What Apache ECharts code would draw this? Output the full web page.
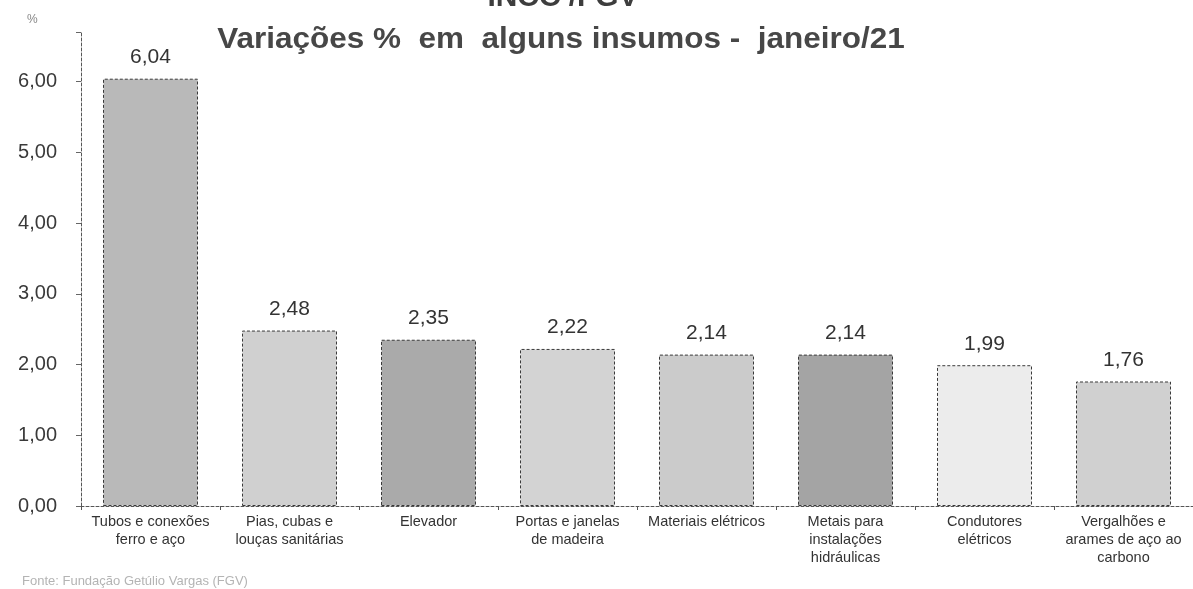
<!DOCTYPE html>
<html>
<head>
<meta charset="utf-8">
<script src="https://cdn.jsdelivr.net/npm/echarts@6/dist/echarts.min.js"></script>
<style>
  html, body { margin: 0; padding: 0; background: #fff; }
  #chart { width: 1193px; height: 589px; }
</style>
</head>
<body>
<div id="chart"></div>
<script>
// Insumos do INCC com as maiores variações em janeiro/21
const categories = [
  'Tubos e conexões\nferro e aço',
  'Pias, cubas e\nlouças sanitárias',
  'Elevador',
  'Portas e janelas\nde madeira',
  'Materiais elétricos',
  'Metais para\ninstalações\nhidráulicas',
  'Condutores\nelétricos',
  'Vergalhões e\narames de aço ao\ncarbono'
];
const values = [6.04, 2.48, 2.35, 2.22, 2.14, 2.14, 1.99, 1.76];
const barColors = ['#b9b9b9', '#d0d0d0', '#aaaaaa', '#d3d3d3', '#cbcbcb', '#a4a4a4', '#ececec', '#d0d0d0'];

const fmt = v => v.toFixed(2).replace('.', ',');
const FONT = '"Liberation Sans", Arial, sans-serif';

const chart = echarts.init(document.getElementById('chart'));
chart.setOption({
  backgroundColor: '#ffffff',
  animation: false,
  graphic: [
    {
      type: 'text', x: 563, y: -17, scaleX: 1.03,
      style: {
        text: 'INCC /FGV', align: 'center', verticalAlign: 'top',
        font: 'bold 29px ' + FONT, fill: '#3d3d3d'
      }
    },
    {
      type: 'text', x: 561, y: 25, scaleX: 1.085,
      style: {
        text: 'Variações %  em  alguns insumos -  janeiro/21',
        align: 'center', verticalAlign: 'top',
        font: 'bold 29px ' + FONT, fill: '#474747'
      }
    },
    {
      type: 'text', x: 27, y: 14,
      style: { text: '%', font: '12px ' + FONT, fill: '#888' }
    },
    {
      type: 'text', x: 22, y: 575,
      style: { text: 'Fonte: Fundação Getúlio Vargas (FGV)', font: '13px ' + FONT, fill: '#b4b4b4' }
    }
  ],
  grid: { left: 81, top: 32, width: 1119, height: 474 },
  xAxis: {
    type: 'category',
    data: categories,
    axisLine: { lineStyle: { color: '#555', type: [3, 2], width: 1 } },
    axisTick: { show: true, length: 4, lineStyle: { color: '#555' } },
    axisLabel: {
      interval: 0, margin: 7,
      fontFamily: FONT, fontSize: 14.5, lineHeight: 18, color: '#333'
    }
  },
  yAxis: {
    type: 'value',
    min: 0, max: 6.7, interval: 1,
    splitLine: { show: false },
    axisLine: { show: true, lineStyle: { color: '#555', type: [3, 2], width: 1 } },
    axisTick: { show: true, length: 5, lineStyle: { color: '#666' } },
    axisLabel: {
      margin: 24,
      fontFamily: FONT, fontSize: 20, color: '#3a3a3a',
      formatter: v => (Math.abs(v - Math.round(v)) < 1e-9 ? fmt(v) : '')
    }
  },
  series: [{
    type: 'bar',
    barWidth: 95,
    data: values.map((v, i) => ({
      value: v,
      itemStyle: { color: barColors[i] }
    })),
    itemStyle: { borderColor: '#3a3a3a', borderWidth: 1, borderType: [3, 2] },
    label: {
      show: true, position: 'top', distance: 11,
      fontFamily: FONT, fontSize: 21, color: '#333',
      formatter: p => fmt(p.value)
    }
  }]
});
</script>
</body>
</html>
